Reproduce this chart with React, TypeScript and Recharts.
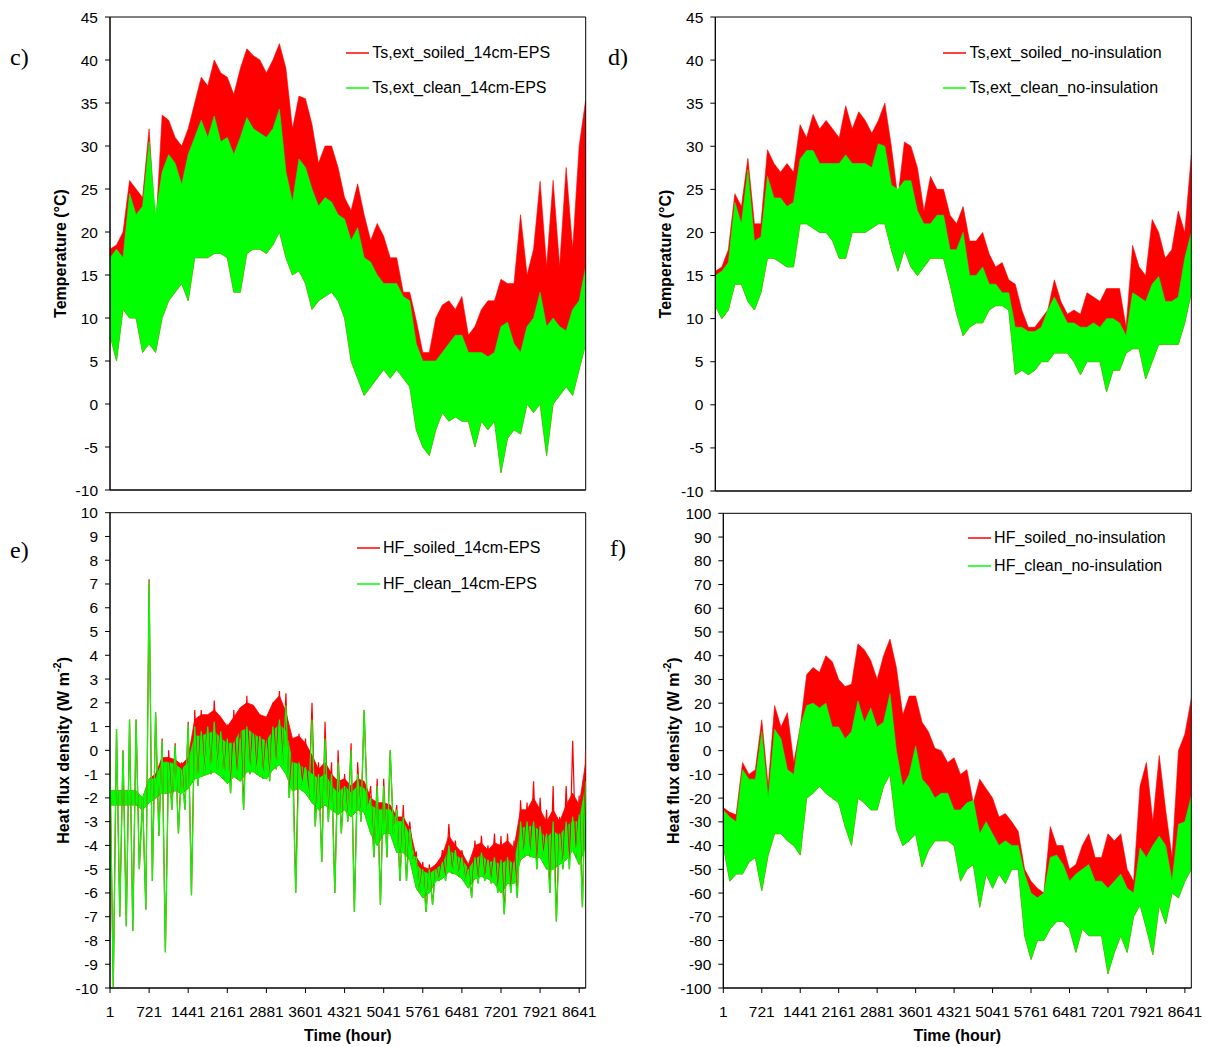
import React from 'react';
import { ComposedChart, Area, Line, XAxis, YAxis, ReferenceArea, Legend } from 'recharts';

// ---------- categories / ticks ----------
const SAMPLE_COUNT = 74; // one envelope sample every 120 h
const HOURS = Array.from({ length: SAMPLE_COUNT }, (_, k) => 1 + 120 * k);
const X_TICKS = [1, 721, 1441, 2161, 2881, 3601, 4321, 5041, 5761, 6481, 7201, 7921, 8641];
const TEMP_TICKS = [-10, -5, 0, 5, 10, 15, 20, 25, 30, 35, 40, 45];
const HF_EPS_TICKS = [-10, -9, -8, -7, -6, -5, -4, -3, -2, -1, 0, 1, 2, 3, 4, 5, 6, 7, 8, 9, 10];
const HF_NOINS_TICKS = [-100, -90, -80, -70, -60, -50, -40, -30, -20, -10, 0, 10, 20, 30, 40, 50, 60, 70, 80, 90, 100];

// ---------- c) surface temperature, 14cm EPS ----------
const cLow = [8, 5, 11, 10, 10, 6, 7, 6, 10, 12, 13, 14, 12, 17, 17, 17, 17.5, 17.5, 17, 13, 13, 17.5, 18, 18, 17.5, 18.5, 20, 17, 15, 15.5, 14, 11, 12, 12.5, 13, 12, 10, 5, 3, 1, 2, 3, 4, 3, 4, 3, 2, -3, -5, -6, -3, -1, -2, -1.5, -2, -2, -5, -2, -3, -2, -8, -4, -3, -3.5, 0, -1, 0, -6, 0, 1, 2, 1, 4, 7];
const cCleanHigh = [17, 18, 17, 24.5, 22, 23, 30.5, 22, 27, 29, 28, 25.5, 29, 31, 33, 31, 33.5, 30.5, 31, 29, 31, 33.3, 32, 31.5, 31, 32, 34.3, 27, 23.5, 28.5, 27.5, 25, 23, 24, 23.5, 22, 21.5, 19, 20.5, 17, 16.5, 15, 14, 14, 14, 12.5, 12, 7, 5, 5, 5, 6, 7, 8, 8, 6, 6, 6, 5.5, 6, 9, 9.5, 7, 6, 9, 10, 13, 9, 10, 9, 8.5, 11, 12, 16];
const cSoiledHigh = [18, 18.5, 20, 26, 25, 24, 32, 20, 33.6, 33, 31, 30, 32, 35, 38, 37, 40, 38.5, 38, 36, 39, 41.3, 40.5, 40, 38.5, 40, 41.9, 39, 32, 35.8, 35.5, 32.5, 28, 30, 30, 27.5, 24, 22.5, 25.6, 22, 19, 21, 19.5, 17, 17, 13, 13, 9.7, 6, 6, 10, 11.5, 12, 11, 12.5, 8, 9, 11, 12, 12, 14.5, 14, 14, 22, 15, 18, 25.9, 16, 26, 16, 27.5, 18, 30, 35.4];

// ---------- d) surface temperature, no insulation ----------
const dLow = [11.5, 10, 11, 14, 14, 12, 11, 13, 17, 17, 16.5, 16, 16, 21, 21, 20.5, 20, 20, 19, 17, 17, 20, 20, 20, 20.5, 21, 21, 18, 15.5, 18, 16, 15, 16, 17, 17, 17, 14, 10.6, 8, 9, 9.5, 9.5, 11, 11.5, 11.5, 11, 3.5, 4, 3.5, 4, 5, 5, 6, 6, 6, 5, 3.5, 5, 5, 5, 1.5, 4, 4, 6, 6.5, 6.5, 3, 5, 7, 7, 7, 7, 9.5, 13];
const dCleanHigh = [15, 15.5, 16.5, 23.5, 21, 27.3, 19, 19.5, 26.5, 24, 24, 23, 23.5, 28.5, 29.5, 29.5, 28, 28, 28, 28, 29, 28, 28, 28, 27.5, 30.3, 30, 25.5, 25, 26, 26, 22.5, 21, 21, 22, 22, 18, 18, 20, 15, 15, 16, 14, 14, 13, 13, 9, 9, 8.5, 8.5, 9, 11, 12.5, 11, 9.5, 9.5, 9, 9, 9.5, 9, 10, 10, 9.5, 8, 13, 12.5, 12, 14, 14.9, 12, 12, 12.5, 17, 20];
const dSoiledHigh = [15.5, 16, 18, 24.5, 23, 28.6, 21, 21, 29.6, 28, 27, 28, 27, 32.5, 31, 33.7, 32, 33, 32, 31, 34.7, 32, 34, 33, 31.5, 33, 35, 30, 24, 30.5, 30, 27.5, 22.5, 26.5, 25, 25, 22, 21, 23, 19, 19, 20, 17.5, 16, 16.5, 14.5, 14, 11, 9, 9, 10, 11, 14.5, 12, 10.5, 11, 10.5, 13, 12.5, 12, 13.5, 13.5, 13.5, 9, 18.5, 16, 15, 21.5, 20, 17, 18, 22.5, 20, 29];

// ---------- e) heat flux, 14cm EPS ----------
// extremes (spikes) per sample
const eLow = [-10, -7, -7.4, -7.6, -5, -6.7, -5.5, -3.6, -8.5, -2.5, -3.5, -2.5, -6.1, -1.5, -1, -1, -0.8, -1.2, -1.8, -1.2, -2.5, -1, -1, -1.2, -1.3, -0.8, -0.6, -2, -6, -1.5, -2, -3.2, -4.7, -3, -6, -3.5, -3, -6.8, -3, -2.5, -4.5, -6.5, -4.5, -3.5, -5.5, -5.5, -4.5, -6, -6.8, -6.5, -5.5, -5.5, -5.2, -5.3, -5.5, -6.2, -5.6, -5.5, -5.6, -6, -6.9, -6, -6.2, -4.5, -4.5, -5, -4.5, -6, -7.2, -5, -5, -4.5, -6.6, -4];
const eCleanHigh = [-0.6, 0.9, 0, 1.3, 1.3, -2, 7.1, 1.6, 0.4, -0.5, 0.2, -0.8, 1.1, 1, 0.8, 1, 1.2, 0.8, 0.5, 0.3, 0.5, 1, 0.7, 0.6, 0.3, 1.0, 1.3, 1.9, -0.5, -0.5, -0.7, 1.3, -1, 0.5, -1, -0.5, -1.5, 0, -1, 1.7, -2, -1.5, -1.5, 0, -2.5, -2.8, -3.3, -4.5, -5, -5, -5, -4.7, -4, -4.2, -4.5, -5, -4.5, -4.3, -4.6, -4.5, -4.6, -4.5, -4.7, -3, -3, -3, -3.2, -3.5, -3, -3.5, -3, -2.8, -2.7, -1.3];
const eSoiledHigh = [-0.6, 0.9, 0, 1.3, 1.3, -2, 7.2, 1.6, 0.5, 0, 0.3, -0.5, 1.2, 1.7, 1.7, 1.5, 2.1, 1.3, 1.1, 1.7, 1.5, 2.3, 1.8, 1.5, 1.0, 2.0, 2.5, 2.4, 0.5, 0.7, 0.5, 2, -0.5, 1.2, -0.5, 0, -1, 0.3, -0.5, 1.7, -1.5, -1.2, -1.2, 0, -2.3, -2.3, -3.0, -4.3, -4.7, -4.8, -4.8, -4.2, -3.1, -3.8, -4.2, -4.8, -3.8, -3.6, -4.0, -3.5, -3.6, -3.5, -3.8, -2.1, -2.2, -1.3, -2, -2.5, -1.5, -2.8, -1.5, 0.4, -1.9, 0];
// dense core of the trace per sample
const eCoreLow = [-2.3, -2.3, -2.3, -2.3, -2.3, -2.5, -2.2, -2.0, -1.8, -1.8, -1.7, -1.8, -1.6, -1.2, -1.1, -1.0, -0.9, -1.1, -1.4, -1.1, -1.3, -0.9, -0.9, -1.1, -1.2, -0.8, -0.6, -1.0, -1.7, -1.6, -1.8, -2.2, -2.5, -2.3, -2.5, -2.7, -2.5, -2.8, -2.5, -2.6, -3.5, -4.0, -3.5, -3.5, -4.3, -4.3, -4.6, -5.8, -6.2, -6.0, -5.5, -5.4, -5.1, -5.2, -5.4, -5.8, -5.4, -5.3, -5.4, -5.6, -6.0, -5.6, -5.6, -4.6, -4.4, -4.5, -4.5, -5.0, -5.0, -4.8, -4.6, -4.2, -4.8, -4.0];
const eCleanCore = [-1.7, -1.7, -1.7, -1.7, -1.7, -2.0, -1.2, -1.2, -0.5, -0.5, -0.6, -0.8, -0.5, 0.6, 0.6, 0.7, 0.8, 0.5, 0.3, 0.3, 0.8, 0.9, 0.7, 0.5, 0.4, 0.8, 1.1, 0.8, -0.5, -0.6, -0.8, -1.0, -1.2, -1.0, -1.5, -1.8, -1.5, -1.8, -1.5, -1.6, -2.3, -2.5, -2.5, -2.5, -3.0, -3.0, -3.6, -4.8, -5.1, -5.2, -5.0, -4.8, -4.2, -4.4, -4.6, -5.0, -4.6, -4.4, -4.7, -4.7, -4.8, -4.6, -4.8, -3.3, -3.2, -3.2, -3.4, -3.7, -3.4, -3.6, -3.2, -3.0, -3.0, -1.5];
const eSoiledCore = [-1.7, -1.7, -1.7, -1.7, -1.7, -2.0, -1.2, -1.0, -0.3, -0.3, -0.4, -0.6, -0.3, 1.3, 1.5, 1.5, 1.7, 1.4, 1.0, 1.4, 1.8, 2.0, 1.9, 1.5, 1.4, 2.0, 2.3, 1.6, 0.5, 0.6, 0.3, -0.2, -0.8, -0.5, -1.0, -1.3, -1.2, -1.5, -1.2, -1.3, -2.0, -2.2, -2.2, -2.3, -2.8, -2.8, -3.3, -4.5, -4.9, -5.0, -4.8, -4.4, -3.6, -4.0, -4.3, -4.8, -4.0, -3.9, -4.2, -3.9, -4.0, -3.8, -4.1, -2.5, -2.5, -2.0, -2.5, -3.0, -2.5, -3.0, -2.3, -1.8, -2.3, -0.5];

// ---------- f) heat flux, no insulation ----------
const fLow = [-40, -55, -52, -52, -47, -45, -59, -44, -35, -35, -38, -40, -44, -20, -18, -15, -18, -20, -22, -32, -40, -20, -22, -25, -25, -15, -10, -33, -40, -38, -35, -49, -42, -38, -38, -38, -40, -55, -50, -48, -66, -52, -58, -52, -56, -50, -50, -78, -88, -80, -80, -75, -72, -72, -75, -85, -75, -78, -78, -78, -94, -85, -78, -85, -70, -65, -75, -86, -65, -73, -60, -62, -55, -50];
const fCleanHigh = [-25, -28, -30, -8, -12, -12, 8, -20, 9, 5, -8, -10, 10, 19, 20, 18, 20, 10, 10, 5, 8, 21, 12, 18, 10, 12, 24, 0, -15, -10, 2, -12, -15, -20, -18, -18, -25, -25, -22, -21, -35, -30, -35, -40, -38, -40, -40, -52, -60, -62, -60, -45, -44, -48, -55, -52, -50, -48, -55, -55, -58, -55, -52, -58, -60, -41, -45, -40, -36, -40, -55, -31, -30, -19];
const fSoiledHigh = [-24, -26, -27, -5, -10, -8, 13, -15, 19, 10, 16, -5, 10, 32, 35, 33, 40, 37.5, 30, 27, 28, 45, 42.5, 38, 30, 40, 47, 35, 15, 23, 23, 12, 8, 1, 0, -5, -3, -10, -8, -22, -12, -16, -20, -28, -26.5, -30, -34, -50, -55, -58, -60, -32, -40, -40, -50, -48, -40, -35, -45, -45, -35, -38, -35, -50, -55, -15, -5, -30, -2, -25, -45, 0, 7, 22];

// ---------- styling ----------
const RED = '#ff0000';
const GREEN = '#00ff00';
const SANS = "'Liberation Sans', Arial, Helvetica, sans-serif";
const SERIF = "'Liberation Serif', 'Times New Roman', Times, serif";
const TICK_FONT = 15.5;
const LEGEND_FONT = 16;
const TITLE_FONT = 16;

type Core = { low: number[]; clean: number[]; soiled: number[] };

type Panel = {
  id: string;
  letter: string;
  letterLeft: number;
  letterTop: number;
  left: number;
  top: number;
  width: number;
  height: number;
  margin: { top: number; right: number; bottom: number; left: number };
  yAxisWidth: number;
  xAxisHeight: number;
  yDomain: [number, number];
  yTicks: number[];
  showXLabels: boolean;
  yTitle: 'temp' | 'hf';
  yTitleX: number;
  legendLeft: number;
  legendTop: number;
  legendGap: number;
  soiledName: string;
  cleanName: string;
  low: number[];
  clean: number[];
  soiled: number[];
  core?: Core; // when given: dense core drawn as band, extremes drawn as a trace
};

const PANELS: Panel[] = [
  {
    id: 'c', letter: 'c)', letterLeft: 10, letterTop: 45,
    left: 0, top: 0, width: 600, height: 500,
    margin: { top: 17, right: 14.3, bottom: 0, left: 0 },
    yAxisWidth: 110, xAxisHeight: 10,
    yDomain: [-10, 45], yTicks: TEMP_TICKS, showXLabels: false,
    yTitle: 'temp', yTitleX: 60,
    legendLeft: 345.7, legendTop: 43.6, legendGap: 35.7,
    soiledName: 'Ts,ext_soiled_14cm-EPS', cleanName: 'Ts,ext_clean_14cm-EPS',
    low: cLow, clean: cCleanHigh, soiled: cSoiledHigh,
  },
  {
    id: 'd', letter: 'd)', letterLeft: 608, letterTop: 45,
    left: 600, top: 0, width: 608, height: 500,
    margin: { top: 17, right: 16.7, bottom: 0, left: 0 },
    yAxisWidth: 115.3, xAxisHeight: 9,
    yDomain: [-10, 45], yTicks: TEMP_TICKS, showXLabels: false,
    yTitle: 'temp', yTitleX: 65.7,
    legendLeft: 343, legendTop: 43.6, legendGap: 35.7,
    soiledName: 'Ts,ext_soiled_no-insulation', cleanName: 'Ts,ext_clean_no-insulation',
    low: dLow, clean: dCleanHigh, soiled: dSoiledHigh,
  },
  {
    id: 'e', letter: 'e)', letterLeft: 10, letterTop: 537.5,
    left: 0, top: 500, width: 600, height: 547,
    margin: { top: 12.7, right: 14.3, bottom: 0, left: 0 },
    yAxisWidth: 110, xAxisHeight: 59,
    yDomain: [-10, 10], yTicks: HF_EPS_TICKS, showXLabels: true,
    yTitle: 'hf', yTitleX: 63.4,
    legendLeft: 356.5, legendTop: 38.6, legendGap: 36.1,
    soiledName: 'HF_soiled_14cm-EPS', cleanName: 'HF_clean_14cm-EPS',
    low: eLow, clean: eCleanHigh, soiled: eSoiledHigh,
    core: { low: eCoreLow, clean: eCleanCore, soiled: eSoiledCore },
  },
  {
    id: 'f', letter: 'f)', letterLeft: 610, letterTop: 535.5,
    left: 600, top: 500, width: 608, height: 547,
    margin: { top: 13.3, right: 16.7, bottom: 0, left: 0 },
    yAxisWidth: 123.3, xAxisHeight: 59,
    yDomain: [-100, 100], yTicks: HF_NOINS_TICKS, showXLabels: true,
    yTitle: 'hf', yTitleX: 72.7,
    legendLeft: 367.6, legendTop: 28.7, legendGap: 28,
    soiledName: 'HF_soiled_no-insulation', cleanName: 'HF_clean_no-insulation',
    low: fLow, clean: fCleanHigh, soiled: fSoiledHigh,
  },
];

function LegendBox({ p }: { p: Panel }) {
  const rows = [
    { name: p.soiledName, color: RED },
    { name: p.cleanName, color: GREEN },
  ];
  return (
    <div style={{ position: 'relative', width: 270, height: p.legendGap + 18, fontFamily: SANS, fontSize: LEGEND_FONT, color: '#000' }}>
      {rows.map((r, i) => (
        <div
          key={r.name}
          style={{ position: 'absolute', left: 0, top: i * p.legendGap, height: 18, display: 'flex', alignItems: 'center', whiteSpace: 'nowrap' }}
        >
          <svg width={23} height={18} style={{ display: 'block' }}>
            <line x1={0} y1={9} x2={23} y2={9} stroke={r.color} strokeWidth={1.5} />
          </svg>
          <span style={{ marginLeft: 3.5, lineHeight: '18px' }}>{r.name}</span>
        </div>
      ))}
    </div>
  );
}

// band rows: each sample a [low, high] range
function bandRows(low: number[], clean: number[], soiled: number[]) {
  return HOURS.map((h, i) => ({
    hour: h,
    soiled: [low[i], soiled[i]],
    clean: [low[i], clean[i]],
  }));
}

// trace rows: a trace swinging from each sample's high to its low half a step later
function traceRows(p: Panel) {
  const rows: { hour: number; soiledT: number; cleanT: number }[] = [];
  HOURS.forEach((h, i) => {
    rows.push({ hour: h, soiledT: p.soiled[i], cleanT: p.clean[i] });
    if (i < HOURS.length - 1) rows.push({ hour: h + 60, soiledT: p.low[i], cleanT: p.low[i] });
  });
  return rows;
}

function PanelChart({ p }: { p: Panel }) {
  const data = p.core ? bandRows(p.core.low, p.core.clean, p.core.soiled) : bandRows(p.low, p.clean, p.soiled);
  const trace = p.core ? traceRows(p) : null;
  const plotLeft = p.margin.left + p.yAxisWidth;
  const plotRight = p.width - p.margin.right;
  const plotTop = p.margin.top;
  const plotBottom = p.height - p.margin.bottom - p.xAxisHeight;
  const cy = (plotTop + plotBottom) / 2;
  const cx = (plotLeft + plotRight) / 2;

  const yTitle = () => (
    <text
      x={p.yTitleX}
      y={cy}
      transform={`rotate(-90, ${p.yTitleX}, ${cy})`}
      textAnchor="middle"
      dominantBaseline="central"
      fontFamily={SANS}
      fontWeight="bold"
      fontSize={TITLE_FONT}
      fill="#000"
    >
      {p.yTitle === 'temp' ? (
        'Temperature (°C)'
      ) : (
        <>
          <tspan>Heat flux density (W m</tspan>
          <tspan dy={-6} fontSize={11}>-2</tspan>
          <tspan dy={6}>)</tspan>
        </>
      )}
    </text>
  );

  const xTitle = () => (
    <text x={cx} y={1041 - p.top} textAnchor="middle" fontFamily={SANS} fontWeight="bold" fontSize={TITLE_FONT} fill="#000">
      Time (hour)
    </text>
  );

  const bandW = p.core ? 0.8 : 0.6;

  return (
    <div style={{ position: 'absolute', left: p.left, top: p.top, width: p.width, height: p.height }}>
      <ComposedChart width={p.width} height={p.height} data={data} margin={p.margin}>
        <XAxis
          dataKey="hour"
          type="number"
          domain={[1, 8761]}
          allowDataOverflow
          ticks={X_TICKS}
          interval={0}
          height={p.xAxisHeight}
          tickSize={5}
          tickMargin={12.5}
          axisLine={{ stroke: '#000', strokeWidth: 1 }}
          tickLine={{ stroke: '#000', strokeWidth: 1 }}
          tick={p.showXLabels ? { fill: '#000', fontSize: TICK_FONT, fontFamily: SANS } : false}
          label={p.showXLabels ? { content: xTitle } : undefined}
        />
        <YAxis
          type="number"
          domain={p.yDomain}
          allowDataOverflow
          ticks={p.yTicks}
          interval={0}
          width={p.yAxisWidth}
          tickSize={5}
          tickMargin={7}
          axisLine={{ stroke: '#000', strokeWidth: 1 }}
          tickLine={{ stroke: '#000', strokeWidth: 1 }}
          tick={{ fill: '#000', fontSize: TICK_FONT, fontFamily: SANS }}
          label={{ content: yTitle }}
        />
        <Area type="linear" dataKey="soiled" name={p.soiledName} stroke={RED} strokeWidth={bandW} fill={RED} fillOpacity={1} dot={false} activeDot={false} isAnimationActive={false} />
        {trace && (
          <Line data={trace} type="linear" dataKey="soiledT" name={`${p.soiledName} trace`} legendType="none" stroke={RED} strokeWidth={1.2} dot={false} activeDot={false} isAnimationActive={false} />
        )}
        <Area type="linear" dataKey="clean" name={p.cleanName} stroke={GREEN} strokeWidth={bandW} fill={GREEN} fillOpacity={1} dot={false} activeDot={false} isAnimationActive={false} />
        {trace && (
          <Line data={trace} type="linear" dataKey="cleanT" name={`${p.cleanName} trace`} legendType="none" stroke={GREEN} strokeWidth={1.2} dot={false} activeDot={false} isAnimationActive={false} />
        )}
        <ReferenceArea
          x1={1}
          x2={8761}
          y1={p.yDomain[0]}
          y2={p.yDomain[1]}
          fill="none"
          stroke="#000"
          strokeWidth={1}
          ifOverflow="visible"
        />
        <Legend
          layout="vertical"
          align="center"
          verticalAlign="middle"
          content={() => <LegendBox p={p} />}
          wrapperStyle={{ left: p.legendLeft, top: p.legendTop, width: 'auto', height: 'auto' }}
        />
      </ComposedChart>
    </div>
  );
}

export default function App() {
  return (
    <div style={{ position: 'absolute', left: 0, top: 0, width: 1208, height: 1047, background: '#fff' }}>
      {PANELS.map((p) => (
        <PanelChart key={p.id} p={p} />
      ))}
      {PANELS.map((p) => (
        <div
          key={`lbl-${p.id}`}
          style={{ position: 'absolute', left: p.letterLeft, top: p.letterTop, fontFamily: SERIF, fontSize: 24, lineHeight: '24px', color: '#000' }}
        >
          {p.letter}
        </div>
      ))}
    </div>
  );
}
